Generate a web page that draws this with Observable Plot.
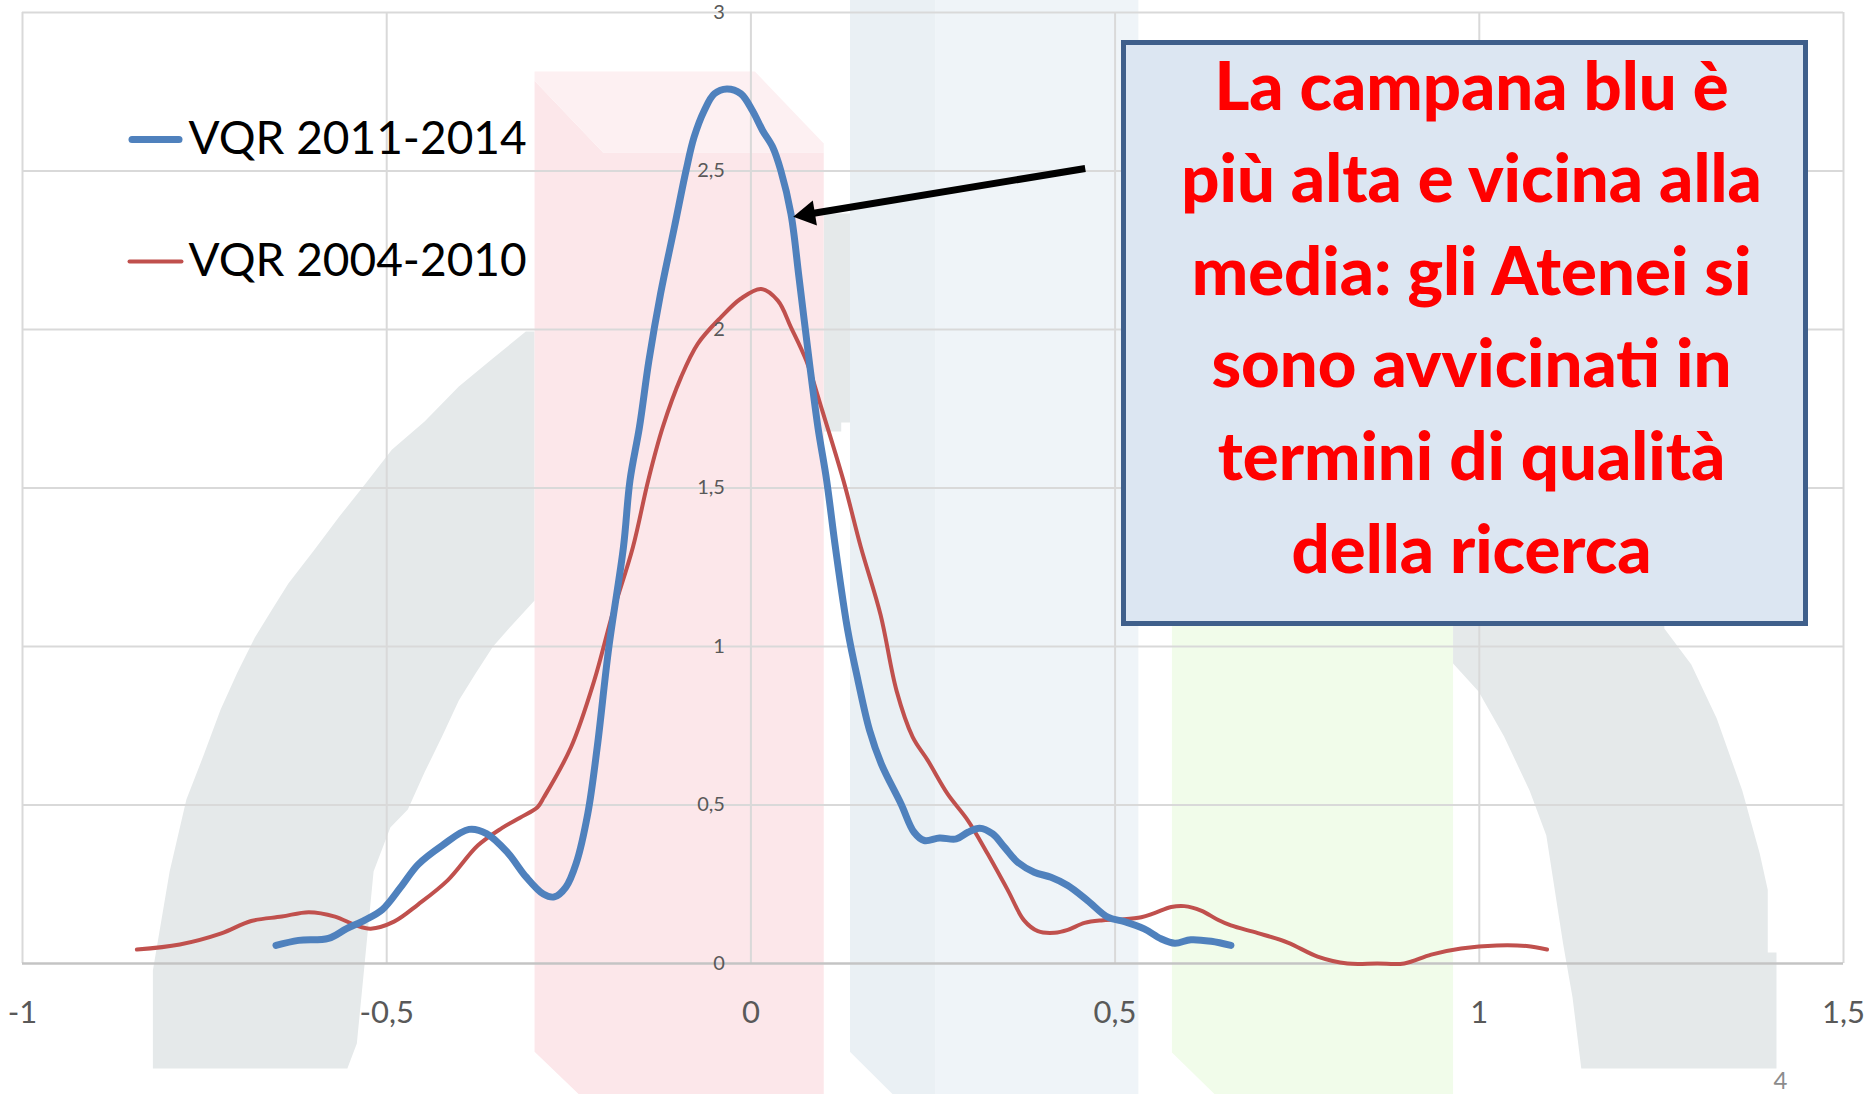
<!DOCTYPE html>
<html>
<head>
<meta charset="utf-8">
<script src="https://cdn.jsdelivr.net/npm/d3@7"></script>
<script src="https://cdn.jsdelivr.net/npm/@observablehq/plot@0.6"></script>
<style>
  html, body { margin: 0; padding: 0; background: #ffffff; }
  #chart { position: relative; width: 1870px; height: 1094px; overflow: hidden; }
</style>
</head>
<body>
<div id="chart"></div>
<script>
// ---------------- DATA ----------------
const seriesNames = ["VQR 2011-2014", "VQR 2004-2010"];

const xTicks = [-1, -0.5, 0, 0.5, 1, 1.5];
const yTicks = [0, 0.5, 1, 1.5, 2, 2.5, 3];

// VQR 2011-2014 (blue, thick)
const vqr1114X = [-0.652,-0.621,-0.580,-0.555,-0.530,-0.506,-0.481,-0.457,-0.424,-0.387,-0.363,-0.334,-0.309,-0.285,-0.270,-0.254,-0.240,-0.224,-0.211,-0.195,-0.175,-0.166,-0.153,-0.140,-0.124,-0.105,-0.089,-0.078,-0.064,-0.050,-0.033,-0.014,0.002,0.016,0.030,0.041,0.055,0.066,0.080,0.092,0.104,0.116,0.133,0.147,0.163,0.179,0.206,0.224,0.238,0.259,0.282,0.298,0.314,0.332,0.348,0.366,0.389,0.412,0.435,0.462,0.490,0.513,0.540,0.563,0.582,0.604,0.632,0.659];
const vqr1114Y = [0.057,0.073,0.079,0.110,0.137,0.170,0.240,0.312,0.372,0.423,0.410,0.350,0.274,0.219,0.210,0.241,0.315,0.472,0.682,0.998,1.313,1.524,1.692,1.902,2.113,2.323,2.502,2.607,2.691,2.744,2.759,2.744,2.691,2.628,2.575,2.502,2.365,2.165,1.902,1.692,1.524,1.313,1.050,0.893,0.735,0.630,0.504,0.414,0.388,0.396,0.393,0.414,0.427,0.409,0.367,0.320,0.288,0.272,0.246,0.199,0.146,0.132,0.109,0.078,0.064,0.075,0.070,0.057];

// VQR 2004-2010 (red, thin)
const vqr0410X = [-0.843,-0.784,-0.727,-0.686,-0.644,-0.607,-0.571,-0.543,-0.522,-0.490,-0.457,-0.416,-0.375,-0.342,-0.317,-0.293,-0.284,-0.247,-0.215,-0.190,-0.162,-0.141,-0.121,-0.096,-0.073,-0.041,-0.014,0.014,0.037,0.055,0.076,0.098,0.127,0.151,0.178,0.200,0.222,0.243,0.270,0.298,0.325,0.353,0.375,0.394,0.417,0.435,0.458,0.481,0.508,0.536,0.554,0.577,0.595,0.618,0.641,0.659,0.696,0.737,0.778,0.819,0.860,0.897,0.934,0.975,1.024,1.065,1.093];
const vqr0410Y = [0.044,0.060,0.095,0.134,0.148,0.162,0.148,0.121,0.110,0.132,0.186,0.263,0.372,0.427,0.460,0.493,0.525,0.682,0.893,1.103,1.313,1.524,1.692,1.849,1.955,2.039,2.097,2.128,2.091,2.007,1.902,1.744,1.524,1.313,1.100,0.860,0.715,0.640,0.535,0.451,0.346,0.230,0.136,0.102,0.097,0.106,0.128,0.136,0.139,0.146,0.159,0.178,0.181,0.167,0.138,0.120,0.096,0.066,0.022,0.000,0.000,0.000,0.028,0.047,0.057,0.055,0.044];

// Background picture outlines (data units)
const bgBlueLight = [[0.253,3.04],[0.532,3.04],[0.532,-0.413],[0.253,-0.413]];
const bgBlueDark  = [[0.136,3.04],[0.253,3.04],[0.253,-0.413],[0.195,-0.413],[0.136,-0.278]];
const bgGreen     = [[0.578,1.8],[0.964,1.8],[0.964,-0.413],[0.637,-0.413],[0.578,-0.281]];
const bgGrayRight = [[0.964,1.145],[1.254,1.145],[1.254,1.057],[1.291,0.943],[1.326,0.773],[1.361,0.546],[1.385,0.347],[1.396,0.233],[1.396,0.035],[1.408,0.035],[1.408,-0.331],[1.140,-0.331],[1.128,-0.107],[1.115,0.063],[1.092,0.404],[1.069,0.546],[1.034,0.716],[0.999,0.858],[0.964,0.946]];
const bgGrayLeft  = [[-0.821,-0.331],[-0.821,-0.022],[-0.798,0.290],[-0.775,0.517],[-0.751,0.659],[-0.728,0.801],[-0.705,0.918],[-0.681,1.028],[-0.658,1.114],[-0.635,1.199],[-0.600,1.303],[-0.565,1.410],[-0.530,1.511],[-0.493,1.621],[-0.448,1.710],[-0.401,1.820],[-0.354,1.909],[-0.309,1.994],[-0.297,1.994],[-0.297,1.145],[-0.331,1.060],[-0.354,1.000],[-0.378,0.915],[-0.401,0.830],[-0.424,0.716],[-0.448,0.603],[-0.471,0.486],[-0.495,0.429],[-0.518,0.290],[-0.530,0.006],[-0.541,-0.252],[-0.554,-0.331]];
const bgGrayStrip = [[0.100,2.366],[0.136,2.366],[0.136,1.707],[0.124,1.707],[0.124,1.678],[0.100,1.678]];
const bgPinkDark  = [[-0.297,2.785],[-0.203,2.558],[0.100,2.558],[0.100,-0.413],[-0.236,-0.413],[-0.297,-0.278]];
const bgPinkLight = [[-0.297,2.814],[0.0055,2.814],[0.100,2.587],[0.100,2.558],[-0.203,2.558],[-0.297,2.785]];

// Annotation
const calloutLines = ["La campana blu è", "più alta e vicina alla", "media: gli Atenei si", "sono avvicinati in", "termini di qualità", "della ricerca"];
const arrowFrom = {x: 0.459, y: 2.508};
const arrowTo   = {x: 0.058, y: 2.356};
const pageNumber = "4";

// ---------------- LAYOUT ----------------
const W = 1870, H = 1094;
const M = {top: 12, right: 27, bottom: 131, left: 22};
const X_DOMAIN = [-1, 1.5], Y_DOMAIN = [0, 3];
const sx = Plot.scale({x: {domain: X_DOMAIN, range: [M.left, W - M.right]}});
const sy = Plot.scale({y: {domain: Y_DOMAIN, range: [H - M.bottom, M.top]}});

const fmt = d => String(d).replace(".", ",");
const vqr1114 = vqr1114X.map((x, i) => ({x, y: vqr1114Y[i]}));
const vqr0410 = vqr0410X.map((x, i) => ({x, y: vqr0410Y[i]}));

const shape = (pts, color) => Plot.line(pts, {x: d => d[0], y: d => d[1], fill: color, stroke: "none", curve: "linear"});

// callout box (pixel layout -> data)
const box = {x1: sx.invert(1123.5), x2: sx.invert(1805.5), y1: sy.invert(623.5), y2: sy.invert(42.5)};
const calloutCenterX = sx.invert(1471);
const calloutBaseline0 = 109, calloutStep = 92.6;
const calloutWidths = [549, 626, 599, 552, 548, 386];

// arrow head geometry in pixels
const tipPx = {x: sx.apply(arrowTo.x), y: sy.apply(arrowTo.y)};
const tailPx = {x: sx.apply(arrowFrom.x), y: sy.apply(arrowFrom.y)};
const ang = Math.atan2(tipPx.y - tailPx.y, tipPx.x - tailPx.x);
const headR = 9.4, headBack = 14.7;
const headCenter = {x: sx.invert(tipPx.x - headBack * Math.cos(ang)), y: sy.invert(tipPx.y - headBack * Math.sin(ang))};
const headRotate = ang * 180 / Math.PI + 90;

// legend layout
const legendItems = seriesNames.map((name, i) => ({
  name,
  color: i === 0 ? "#4f81bd" : "#c0504d",
  lineY: sy.invert(i === 0 ? 139 : 261),
  textY: sy.invert(i === 0 ? 153 : 275)
}));

const chart = Plot.plot({
  width: W, height: H,
  marginTop: M.top, marginRight: M.right, marginBottom: M.bottom, marginLeft: M.left,
  x: {domain: X_DOMAIN, axis: null},
  y: {domain: Y_DOMAIN, axis: null},
  style: {fontFamily: "Lato, 'Open Sans', sans-serif", background: "#ffffff"},
  marks: [
    shape(bgBlueLight, "#eff4f8"),
    shape(bgBlueDark, "#eaf0f4"),
    shape(bgGreen, "#f1fcea"),
    shape(bgGrayRight, "#e5e9ea"),
    shape(bgGrayLeft, "#e5e9ea"),
    shape(bgGrayStrip, "#e5e9ea"),
    shape(bgPinkDark, "#fce7ea"),
    shape(bgPinkLight, "#fdf0f2"),
    Plot.ruleX(xTicks, {stroke: "#d9d9d9", strokeWidth: 2}),
    Plot.ruleY(yTicks.filter(d => d > 0), {stroke: "#d9d9d9", strokeWidth: 2}),
    Plot.ruleY([0], {stroke: "#c4c4c4", strokeWidth: 2.5}),
    Plot.line(vqr0410, {x: "x", y: "y", stroke: "#c0504d", strokeWidth: 4, curve: "catmull-rom", strokeLinecap: "round", strokeLinejoin: "round"}),
    Plot.line(vqr1114, {x: "x", y: "y", stroke: "#4f81bd", strokeWidth: 7, curve: "catmull-rom", strokeLinecap: "round", strokeLinejoin: "round"}),
    Plot.text(yTicks, {x: 0, y: d => d, text: fmt, textAnchor: "end", dx: -26, fontSize: 20, fill: "#595959"}),
    Plot.text(xTicks, {x: d => d, y: 0, text: fmt, dy: 50, fontSize: 31, fill: "#595959"}),
    // arrow
    Plot.link([0], {x1: arrowFrom.x, y1: arrowFrom.y, x2: headCenter.x, y2: headCenter.y, stroke: "#000000", strokeWidth: 7}),
    Plot.dot([0], {x: headCenter.x, y: headCenter.y, symbol: "triangle", r: headR, fill: "#000000", stroke: "none", rotate: headRotate}),
    // callout
    Plot.rect([0], {x1: box.x1, x2: box.x2, y1: box.y1, y2: box.y2, fill: "#dce6f2", stroke: "#3f5f8b", strokeWidth: 5}),
    Plot.text(calloutLines, {
      x: calloutCenterX,
      y: (d, i) => sy.invert(calloutBaseline0 + i * calloutStep),
      text: d => d,
      lineAnchor: "bottom",
      fontSize: 67, fontWeight: 900, fill: "#ff0000",
      ariaLabel: "callout text"
    }),
    // legend
    Plot.link(legendItems.slice(0, 1), {x1: sx.invert(131.5), x2: sx.invert(178.5), y1: "lineY", y2: "lineY", stroke: "color", strokeWidth: 7, strokeLinecap: "round"}),
    Plot.link(legendItems.slice(1), {x1: sx.invert(129), x2: sx.invert(181), y1: "lineY", y2: "lineY", stroke: "color", strokeWidth: 4, strokeLinecap: "round"}),
    Plot.text(legendItems, {x: sx.invert(188), y: "textY", text: "name", textAnchor: "start", lineAnchor: "bottom", fontSize: 46, fill: "#000000", ariaLabel: "legend text"}),
    // page number
    Plot.text([pageNumber], {x: sx.invert(1780), y: sy.invert(1088), text: d => d, lineAnchor: "bottom", fontSize: 24, fill: "#8c8c8c"})
  ]
});

document.getElementById("chart").appendChild(chart);

d3.select(chart).selectAll('g[aria-label="callout text"] text').each(function(d, i) {
  this.setAttribute("textLength", calloutWidths[i]);
  this.setAttribute("lengthAdjust", "spacingAndGlyphs");
});
d3.select(chart).selectAll('g[aria-label="legend text"] text').each(function() {
  this.setAttribute("textLength", 336);
  this.setAttribute("lengthAdjust", "spacingAndGlyphs");
});
</script>
</body>
</html>
